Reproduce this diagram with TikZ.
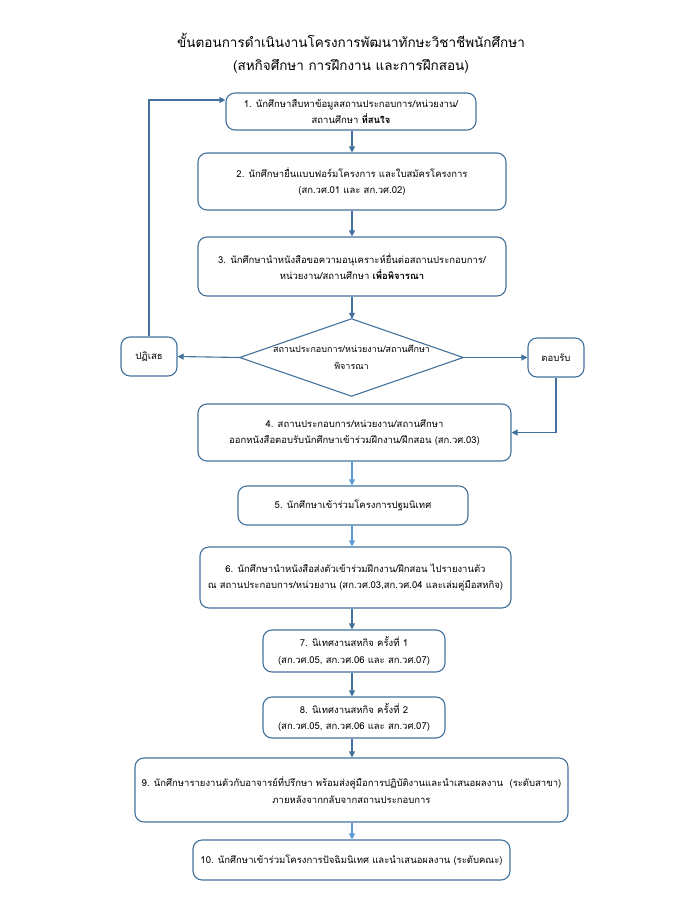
\documentclass[tikz,border=0pt]{standalone}
\usepackage{fontspec}
\setmainfont[Script=Thai]{Loma}
\usetikzlibrary{arrows.meta}
\definecolor{bc}{HTML}{41719C}
\definecolor{lc}{HTML}{5B9BD5}
\tikzset{
  stepbox/.style={draw=bc, line width=1.1pt, rounded corners=9pt, align=center, inner sep=0pt, font=\fontsize{9.5}{16.5}\selectfont},
  arr/.style={draw=bc, line width=1.1pt, -{Triangle[length=6pt,width=6pt]}},
  larr/.style={draw=lc, line width=1.1pt, -{Triangle[length=6pt,width=6pt]}},
}
\begin{document}
\begin{tikzpicture}[x=1pt,y=-1pt]
\useasboundingbox (0,0) rectangle (696,900);
\node[align=center, font=\fontsize{13.5}{23}\selectfont] (title) at (351,53) {ขั้นตอนการดำเนินงานโครงการพัฒนาทักษะวิชาชีพนักศึกษา\\(สหกิจศึกษา การฝึกงาน และการฝึกสอน)};
\node[stepbox, minimum width=250pt, minimum height=37pt] (b1) at (351,111.5) {1. นักศึกษาสืบหาข้อมูลสถานประกอบการ/หน่วยงาน/\\สถานศึกษา \textbf{ที่สนใจ}};
\node[stepbox, minimum width=308pt, minimum height=57pt] (b2) at (352,181.5) {2. นักศึกษายื่นแบบฟอร์มโครงการ และใบสมัครโครงการ\\(สก.วศ.01 และ สก.วศ.02)};
\node[stepbox, minimum width=308pt, minimum height=59pt] (b3) at (352,266.5) {3. นักศึกษานำหนังสือขอความอนุเคราะห์ยื่นต่อสถานประกอบการ/\\หน่วยงาน/สถานศึกษา \textbf{เพื่อพิจารณา}};
\node[align=center, inner sep=0pt, minimum width=223pt, minimum height=77pt, font=\fontsize{9}{16.5}\selectfont] (dia) at (351.5,357.5) {สถานประกอบการ/หน่วยงาน/สถานศึกษา\\พิจารณา};
\draw[draw=bc, line width=1.1pt] (dia.north) -- (dia.east) -- (dia.south) -- (dia.west) -- cycle;
\node[stepbox, minimum width=56pt, minimum height=39pt] (rej) at (149,356.5) {ปฏิเสธ};
\node[stepbox, minimum width=56pt, minimum height=39pt] (acc) at (556,357.5) {ตอบรับ};
\node[stepbox, minimum width=313pt, minimum height=57pt] (b4) at (354.5,432.5) {4. สถานประกอบการ/หน่วยงาน/สถานศึกษา\\ออกหนังสือตอบรับนักศึกษาเข้าร่วมฝึกงาน/ฝึกสอน (สก.วศ.03)};
\node[stepbox, minimum width=230pt, minimum height=39pt] (b5) at (353,505.5) {5. นักศึกษาเข้าร่วมโครงการปฐมนิเทศ};
\node[stepbox, minimum width=311pt, minimum height=61pt] (b6) at (355.5,577.5) {6. นักศึกษานำหนังสือส่งตัวเข้าร่วมฝึกงาน/ฝึกสอน ไปรายงานตัว\\ณ สถานประกอบการ/หน่วยงาน (สก.วศ.03,สก.วศ.04 และเล่มคู่มือสหกิจ)};
\node[stepbox, minimum width=182pt, minimum height=42pt] (b7) at (354,651) {7. นิเทศงานสหกิจ ครั้งที่ 1\\(สก.วศ.05, สก.วศ.06 และ สก.วศ.07)};
\node[stepbox, minimum width=182pt, minimum height=41pt] (b8) at (354,717.5) {8. นิเทศงานสหกิจ ครั้งที่ 2\\(สก.วศ.05, สก.วศ.06 และ สก.วศ.07)};
\node[stepbox, minimum width=433pt, minimum height=64pt] (b9) at (351.5,790) {9. นักศึกษารายงานตัวกับอาจารย์ที่ปรึกษา พร้อมส่งคู่มือการปฏิบัติงานและนำเสนอผลงาน~~(ระดับสาขา)\\ภายหลังจากกลับจากสถานประกอบการ};
\node[stepbox, minimum width=317pt, minimum height=40pt] (b10) at (351.5,860) {10. นักศึกษาเข้าร่วมโครงการปัจฉิมนิเทศ และนำเสนอผลงาน (ระดับคณะ)};
% connectors
\coordinate (x1) at (352,0);
\draw[arr] (b1.south -| x1) -- (b2.north -| x1);
\draw[arr] (b2.south -| x1) -- (b3.north -| x1);
\draw[arr] (b3.south -| x1) -- (dia.north -| x1);
\draw[arr] (dia.west) -- (rej.east);
\draw[arr] (dia.east) -- (acc.west);
\draw[arr] (rej.north) |- ([yshift=11.5pt]b1.west);
\draw[arr] (acc.south) |- (b4.east);
\draw[larr] (b4.south -| x1) -- (b5.north -| x1);
\draw[larr] (b5.south -| x1) -- (b6.north -| x1);
\draw[arr] (b6.south -| x1) -- (b7.north -| x1);
\draw[arr] (b7.south -| x1) -- (b8.north -| x1);
\draw[arr] (b8.south -| x1) -- (b9.north -| x1);
\draw[larr] (b9.south -| x1) -- (b10.north -| x1);
\end{tikzpicture}
\end{document}
